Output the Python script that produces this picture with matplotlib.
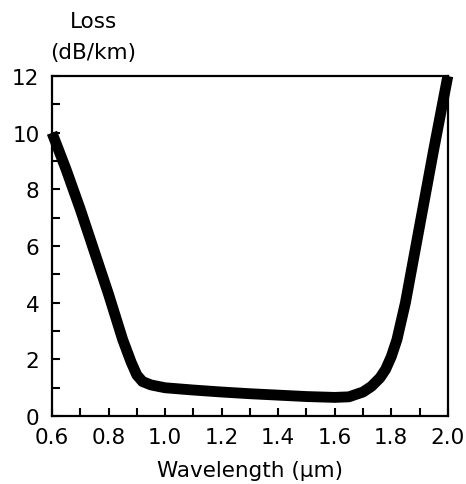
import numpy as np
import matplotlib.pyplot as plt

# fibre loss spectrum
wavelength = [0.60, 0.65, 0.70, 0.75, 0.80, 0.85, 0.88, 0.90, 0.92, 0.95, 1.00,
              1.10, 1.20, 1.30, 1.40, 1.50, 1.60, 1.65, 1.70, 1.73, 1.76, 1.78,
              1.80, 1.82, 1.85, 1.90, 1.95, 2.00]
loss = [10.0, 8.7, 7.3, 5.8, 4.3, 2.7, 1.9, 1.45, 1.22, 1.1, 1.0,
        0.92, 0.85, 0.79, 0.74, 0.69, 0.66, 0.68, 0.85, 1.05, 1.35, 1.65,
        2.1, 2.7, 4.0, 6.7, 9.4, 12.0]

xticks = [0.6, 0.8, 1.0, 1.2, 1.4, 1.6, 1.8, 2.0]
yticks = [0, 2, 4, 6, 8, 10, 12]

plt.rcParams['font.family'] = ['DejaVu Sans']

fig = plt.figure(figsize=(4.66, 4.85), dpi=100)
ax = fig.add_axes([0.1116, 0.140, 0.8494, 0.701])

ax.plot(wavelength, loss, color='black', linewidth=7.8,
        solid_capstyle='butt', solid_joinstyle='round', clip_on=False)

ax.set_xlim(0.6, 2.0)
ax.set_ylim(0, 12)
ax.set_xticks(xticks)
ax.set_xticklabels(['%.1f' % v for v in xticks])
ax.set_yticks(yticks)
ax.set_xticks(np.arange(0.7, 2.0, 0.2), minor=True)
ax.set_yticks(np.arange(1, 12, 2), minor=True)

ax.tick_params(which='both', direction='in', length=6, width=1.5,
               top=False, right=False, labelsize=15.5)
ax.tick_params(axis='y', pad=9)
ax.tick_params(axis='x', pad=8)
for s in ax.spines.values():
    s.set_linewidth(1.6)

ax.set_xlabel('Wavelength (µm)', fontsize=15.5, labelpad=9)
fig.text(0.20, 0.955, 'Loss', fontsize=15.5, ha='center', va='center')
fig.text(0.20, 0.891, '(dB/km)', fontsize=15.5, ha='center', va='center')

fig.savefig('out.png', dpi=100)
